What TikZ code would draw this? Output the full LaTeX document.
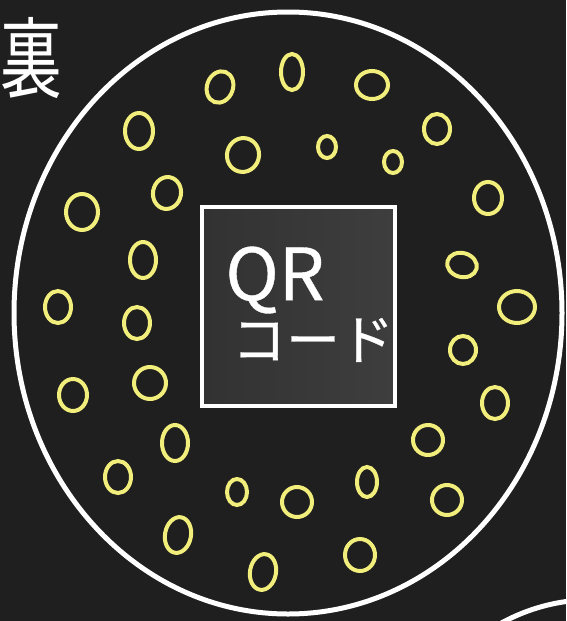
\documentclass[tikz,border=0pt]{standalone}
\usepackage{fontspec}
\newfontfamily\jpfont{Noto Sans CJK JP}
\newfontfamily\jpfontheavy[FakeBold=0.5]{Noto Sans CJK JP}
\definecolor{bgdark}{HTML}{1F1F1F}
\definecolor{qrleft}{HTML}{323232}
\definecolor{qrright}{HTML}{3E3E3E}
\definecolor{loopyellow}{HTML}{F2EE7C}
\tikzset{
  whiteline/.style={draw=white, line width=5pt},
  yloop/.style={draw=loopyellow, line width=4pt},
  qrbox/.style={draw=white, line width=4pt, left color=qrleft, right color=qrright, minimum width=193pt, minimum height=199pt, inner sep=0pt},
  handtext/.style={text=white, inner sep=0pt},
}
\begin{document}
\begin{tikzpicture}[x=1pt,y=-1pt]
\fill[bgdark] (0,0) rectangle (566,621);
\useasboundingbox (0,0) rectangle (566,621);
% big disc outline
\draw[whiteline] (288,313) ellipse (274 and 301);
% neighbouring disc, partly visible
\coordinate (nb1) at (496,626);
\coordinate (nb2) at (570,601);
\draw[whiteline] (nb1) .. controls (520,612) and (545,604) .. (nb2);
% label
\node[handtext, font=\jpfont\fontsize{88}{88}\selectfont, xscale=0.7] (ura) at (31,58) {裏};
% QR code square
\node[qrbox] (qr) at (298.5,306.5) {};
\node[handtext, font=\jpfontheavy\fontsize{72}{72}\selectfont] (qrt) at (275,280) {QR};
\node[handtext, font=\jpfontheavy\fontsize{54}{54}\selectfont] (code) at (313,340) {コード};
% yellow loops
\foreach \x/\y/\a/\b/\r in {
  220/87/13/16/-20, 292/72/11/18/0, 372/85/16/14/0, 437/129/13/15/0,
  488/198/14/16/0, 462/265/15/12/-15, 517/307/18/16/0, 463/350/13/14/0,
  495/403/13/16/0, 428/440/15/15/-20, 447/500/15/15/0, 360/555/15/16/0,
  263/572/13/18/-10, 178/535/13/18/-10, 118/477/13/16/0, 73/395/14/16/0,
  58/307/13/16/0, 82/212/16/18/0, 139/131/14/18/0,
  243/155/16/17/-15, 327/147/9/11/0, 393/162/9/11/0, 167/193/14/16/-10,
  143/260/13/18/0, 137/323/13/16/0, 150/383/16/16/-15, 175/443/13/18/0,
  237/492/10/13/0, 297/502/15/15/0, 367/482/10/15/0}
  \draw[yloop, rotate around={\r:(\x,\y)}] (\x,\y) ellipse (\a pt and \b pt);
\end{tikzpicture}
\end{document}
